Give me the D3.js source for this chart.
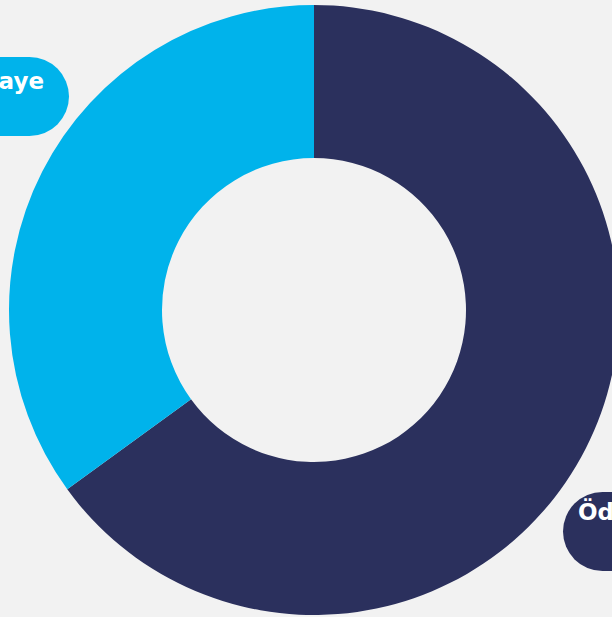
<!DOCTYPE html>
<html><head><meta charset="utf-8">
<script src="https://cdn.jsdelivr.net/npm/d3@7"></script>
<style>html,body{margin:0;padding:0;background:#f2f2f2;overflow:hidden}</style>
</head><body>
<svg id="c" width="612" height="617"></svg>
<script>
const categories = ["Ödenmiş", "Sermaye"];
const values = [65, 35];
const colors = ["#2b305d", "#00b3eb"];

const svg = d3.select("#c");
svg.append("rect").attr("width", 612).attr("height", 617).attr("fill", "#f2f2f2");
const cx = 314, cy = 310, R = 305, r = 152;
const g = svg.append("g").attr("transform", `translate(${cx},${cy})`);
const pie = d3.pie().sort(null).value(d => d.v);
const data = categories.map((c, i) => ({c, v: values[i], col: colors[i]}));
const arcs = pie(data);
const arc = d3.arc().innerRadius(r).outerRadius(R);
g.selectAll("path").data(arcs).enter().append("path")
  .attr("d", arc).attr("fill", d => d.data.col);

// labels (pills)
const pillH = 79;
const labels = [
  {i: 0, x: 563, y: 492, w: 200, anchor: "start", tx: 578, ty: 520},
  {i: 1, x: -150, y: 57, w: 219, anchor: "end", tx: 44, ty: 89}
];
labels.forEach(l => {
  svg.append("rect").attr("x", l.x).attr("y", l.y).attr("width", l.w).attr("height", pillH)
    .attr("rx", pillH / 2).attr("ry", pillH / 2).attr("fill", colors[l.i]);
  svg.append("text").attr("x", l.tx).attr("y", l.ty).attr("text-anchor", l.anchor)
    .attr("fill", "#ffffff").attr("font-family", "'DejaVu Sans', sans-serif")
    .attr("font-weight", 700).attr("font-size", 23).text(categories[l.i]);
});
</script>
</body></html>
